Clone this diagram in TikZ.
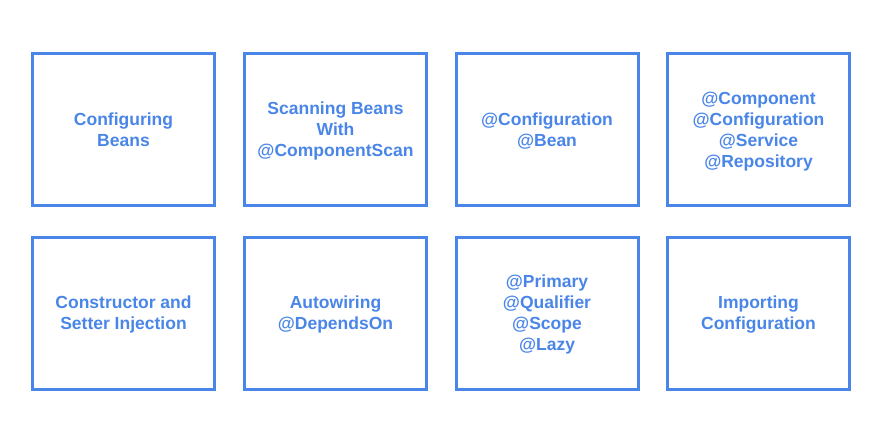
\documentclass[tikz,border=0pt]{standalone}
\usepackage{fontspec}
\setmainfont{Liberation Sans}
\definecolor{topicblue}{HTML}{4A86E8}
\begin{document}
\begin{tikzpicture}[x=1pt,y=-1pt,
  topic/.style={draw=topicblue, line width=3pt, minimum width=182pt, minimum height=152pt,
    inner sep=0pt},
  topictext/.style={text=topicblue, align=center, inner sep=0pt,
    font=\fontsize{17.5}{21}\selectfont\bfseries,
    execute at begin node=\strut, execute at end node=\strut},
  caption/.style={label={[topictext, yshift=-3pt]center:#1}}]
  \useasboundingbox[fill=white] (0,0) rectangle (886,437);
  % first row
  \node[topic, caption={Configuring\\Beans}] (cfg) at (123.5,129.5) {};
  \node[topic, caption={Scanning Beans\\With\\@ComponentScan}] (scan) at (335.5,129.5) {};
  \node[topic, caption={@Configuration\\@Bean}] (bean) at (547,129.5) {};
  \node[topic, caption={@Component\\@Configuration\\@Service\\@Repository}] (stereo) at (758.5,129.5) {};
  % second row
  \node[topic, caption={Constructor and\\Setter Injection}] (inject) at (123.5,313) {};
  \node[topic, caption={Autowiring\\@DependsOn}] (wire) at (335.5,313) {};
  \node[topic, caption={@Primary\\@Qualifier\\@Scope\\@Lazy}] (qual) at (547,313) {};
  \node[topic, caption={Importing\\Configuration}] (import) at (758.5,313) {};
\end{tikzpicture}
\end{document}
